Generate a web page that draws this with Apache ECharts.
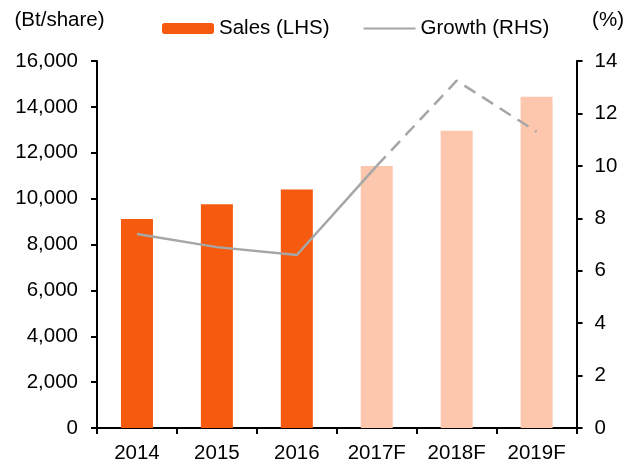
<!DOCTYPE html>
<html>
<head>
<meta charset="utf-8">
<script src="https://cdn.jsdelivr.net/npm/echarts@6/dist/echarts.min.js"></script>
<style>
  html, body { margin: 0; padding: 0; background: #fff; }
  #chart { width: 627px; height: 464px; }
</style>
</head>
<body>
<div id="chart"></div>
<script>
/* ===== data ===== */
const years = ['2014', '2015', '2016', '2017F', '2018F', '2019F'];
const sales = [9110, 9750, 10400, 11420, 12960, 14440];
const growth = [7.4, 6.9, 6.6, 10.0, 13.25, 11.3];
const actualCount = 3;   // 2014-2016 actual, rest forecast

const ORANGE = '#F55A0E';
const PEACH = '#FDC7AD';
const GREY = '#A6A6A6';
const FONT = 'Liberation Sans, Arial, sans-serif';
const FS = 20.5;

const chart = echarts.init(document.getElementById('chart'));

const barData = sales.map((v, i) => ({
  value: v,
  itemStyle: { color: i < actualCount ? ORANGE : PEACH }
}));
// solid up to first forecast year, dashed after
const solidLine = growth.map((v, i) => (i <= actualCount ? v : null));
const dashLine = growth.map((v, i) => (i >= actualCount ? v : null));

const axisLine = { show: true, lineStyle: { color: '#000', width: 2 } };
const axisTick = { show: true, length: 6, lineStyle: { color: '#000', width: 2 } };
const labelStyle = { color: '#000', fontSize: FS, fontFamily: FONT };

chart.setOption({
  animation: false,
  backgroundColor: '#fff',
  textStyle: { fontFamily: FONT },
  legend: {
    top: 13,
    left: 157,
    itemWidth: 52,
    itemHeight: 11,
    itemGap: 33,
    textStyle: { color: '#000', fontSize: FS, fontFamily: FONT },
    data: [
      'Sales (LHS)',
      { name: 'Growth (RHS)', itemStyle: { opacity: 0 } }
    ]
  },
  grid: { left: 97, right: 49, top: 61, bottom: 36, containLabel: false },
  xAxis: {
    type: 'category',
    data: years,
    boundaryGap: true,
    axisLine: axisLine,
    axisTick: axisTick,
    axisLabel: Object.assign({ margin: 15 }, labelStyle)
  },
  yAxis: [{
    type: 'value',
    min: 0, max: 16000, interval: 2000,
    name: '(Bt/share)',
    nameLocation: 'end',
    nameGap: 30,
    nameTextStyle: Object.assign({ align: 'center', padding: [0, 75, 0, 0] }, labelStyle),
    axisLine: axisLine,
    axisTick: axisTick,
    splitLine: { show: false },
    axisLabel: Object.assign({ margin: 19, formatter: v => v.toLocaleString('en-US') }, labelStyle)
  }, {
    type: 'value',
    min: 0, max: 14, interval: 2,
    name: '(%)',
    nameLocation: 'end',
    nameGap: 30,
    nameTextStyle: Object.assign({ align: 'center', padding: [0, 0, 0, 63] }, labelStyle),
    axisLine: axisLine,
    axisTick: axisTick,
    splitLine: { show: false },
    axisLabel: Object.assign({ margin: 18 }, labelStyle)
  }],
  series: [{
    name: 'Sales (LHS)',
    type: 'bar',
    barWidth: 32,
    itemStyle: { color: ORANGE },
    data: barData
  }, {
    name: 'Growth (RHS)',
    type: 'line',
    yAxisIndex: 1,
    symbol: 'none',
    lineStyle: { color: GREY, width: 2.5 },
    itemStyle: { color: GREY },
    data: solidLine
  }, {
    name: 'Growth forecast',
    type: 'line',
    yAxisIndex: 1,
    symbol: 'none',
    lineStyle: { color: GREY, width: 2.5, type: [13, 8] },
    itemStyle: { color: GREY },
    data: dashLine
  }]
});
</script>
</body>
</html>
